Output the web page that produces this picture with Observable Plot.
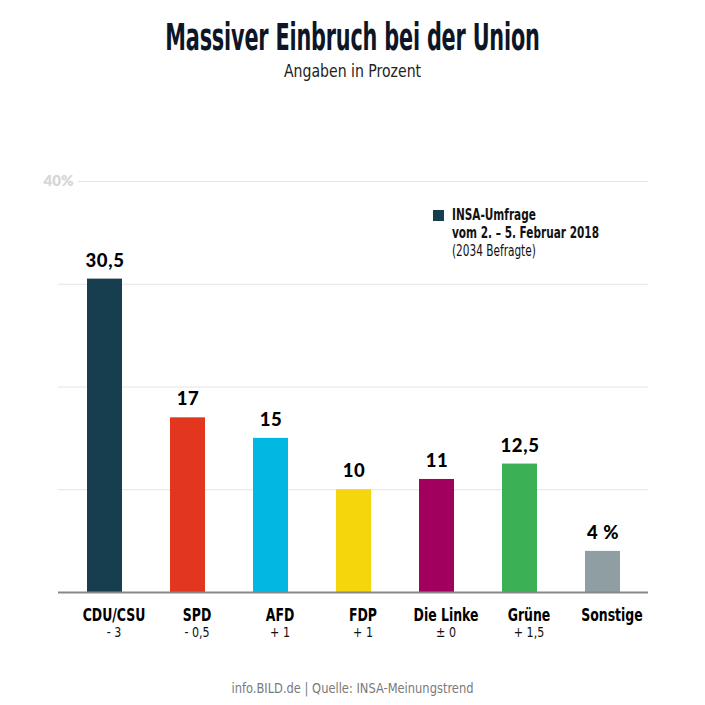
<!DOCTYPE html>
<html>
<head>
<meta charset="utf-8">
<script src="https://cdn.jsdelivr.net/npm/d3@7"></script>
<script src="https://cdn.jsdelivr.net/npm/@observablehq/plot@0.6"></script>
<style>
  html, body { margin: 0; padding: 0; background: #fff; }
  #wrap { position: relative; width: 705px; height: 705px; overflow: hidden; font-family: "Liberation Sans Narrow", "DejaVu Sans Condensed", sans-serif; }
  #title { position: absolute; top: 16px; left: 0; width: 705px; text-align: center; }
  #title span { display: inline-block; font-size: 37px; font-weight: bold; color: #0d1626; transform: scaleX(0.625); transform-origin: center; white-space: nowrap; letter-spacing: -0.3px; }
  #subtitle { position: absolute; top: 61px; left: 0; width: 705px; text-align: center; }
  #subtitle span { display: inline-block; font-size: 17px; color: #222; transform: scaleX(0.92); transform-origin: center; white-space: nowrap; }
  #chart { position: absolute; top: 100px; left: 0; }
  #legend { position: absolute; left: 433px; top: 206px; font-size: 15px; line-height: 18px; color: #111; }
  #legend .sw { position: absolute; left: 0; top: 4px; width: 11px; height: 11px; background: #173e4f; }
  #legend .tx { position: absolute; left: 19px; top: 0; white-space: nowrap; transform: scaleX(0.78); transform-origin: left top; }
  #legend b { font-weight: bold; }
  #footer { position: absolute; top: 678px; left: 0; width: 705px; text-align: center; }
  #footer span { display: inline-block; font-size: 14.5px; color: #7a7a7a; transform: scaleX(0.88); transform-origin: center; white-space: nowrap; }
  .vallbl text { letter-spacing: 0.6px; }
</style>
</head>
<body>
<div id="wrap">
  <div id="title"><span>Massiver Einbruch bei der Union</span></div>
  <div id="subtitle"><span>Angaben in Prozent</span></div>
  <div id="chart"></div>
  <div id="legend"><div class="sw"></div><div class="tx"><b>INSA-Umfrage</b><br><b>vom 2. – 5. Februar 2018</b><br>(2034 Befragte)</div></div>
  <div id="footer"><span>info.BILD.de | Quelle: INSA-Meinungstrend</span></div>
</div>
<script>
const parties = ["CDU/CSU", "SPD", "AFD", "FDP", "Die Linke", "Grüne", "Sonstige"];
const values = [30.5, 17, 15, 10, 11, 12.5, 4];
const valueLabels = ["30,5", "17", "15", "10", "11", "12,5", "4 %"];
const changes = ["- 3", "- 0,5", "+ 1", "+ 1", "± 0", "+ 1,5", ""];
const colors = ["#173e4f", "#e2361f", "#00b8e1", "#f5d50b", "#a2005f", "#3cb054", "#8f9ea2"];
const gridTicks = [10, 20, 30];
const topTick = [40];

const data = parties.map((p, i) => ({party: p, value: values[i], label: valueLabels[i], change: changes[i], color: colors[i]}));

const narrow = '"Liberation Sans Narrow", "DejaVu Sans Condensed", sans-serif';
const heavy = 'Lato, "Open Sans", sans-serif';

const chart = Plot.plot({
  width: 705,
  height: 550,
  marginLeft: 58,
  marginRight: 57,
  marginTop: 81,
  marginBottom: 58,
  x: {domain: parties, paddingInner: 0.583, paddingOuter: 0.32, axis: null},
  y: {domain: [0, 40], axis: null},
  marks: [
    Plot.ruleY(gridTicks, {stroke: "#e4e4e4", strokeWidth: 1}),
    Plot.ruleY(topTick, {stroke: "#e4e4e4", strokeWidth: 1, insetLeft: 20}),
    Plot.text(topTick, {y: d => d, frameAnchor: "left", text: d => d + "%", textAnchor: "middle", fill: "#d6d6d6", fontSize: 15, fontWeight: 800, fontFamily: heavy}),
    Plot.barY(data, {x: "party", y: "value", fill: d => d.color}),
    Plot.ruleY([0], {stroke: "#888", strokeWidth: 2}),
    Plot.text(data, {x: "party", y: "value", text: "label", lineAnchor: "bottom", dy: -12.5, fill: "#000", fontSize: 18.5, fontWeight: 900, fontFamily: heavy, className: "vallbl"}),
    Plot.text(data, {x: "party", y: d => 0, text: "party", lineAnchor: "bottom", dy: 28, dx: 9, fill: "#000", fontSize: 18.5, fontWeight: "bold", fontFamily: narrow, className: "partylbl"}),
    Plot.text(data, {x: "party", y: d => 0, text: "change", lineAnchor: "bottom", dy: 44, dx: 9, fill: "#111", fontSize: 14.5, fontFamily: narrow, className: "changelbl"})
  ]
});
// horizontally condense the category labels to mimic the narrow newspaper face
chart.querySelectorAll(".partylbl text").forEach(t => t.setAttribute("transform", (t.getAttribute("transform") || "") + " scale(0.75,1)"));
chart.querySelectorAll(".changelbl text").forEach(t => t.setAttribute("transform", (t.getAttribute("transform") || "") + " scale(0.85,1)"));
document.getElementById("chart").appendChild(chart);
</script>
</body>
</html>
